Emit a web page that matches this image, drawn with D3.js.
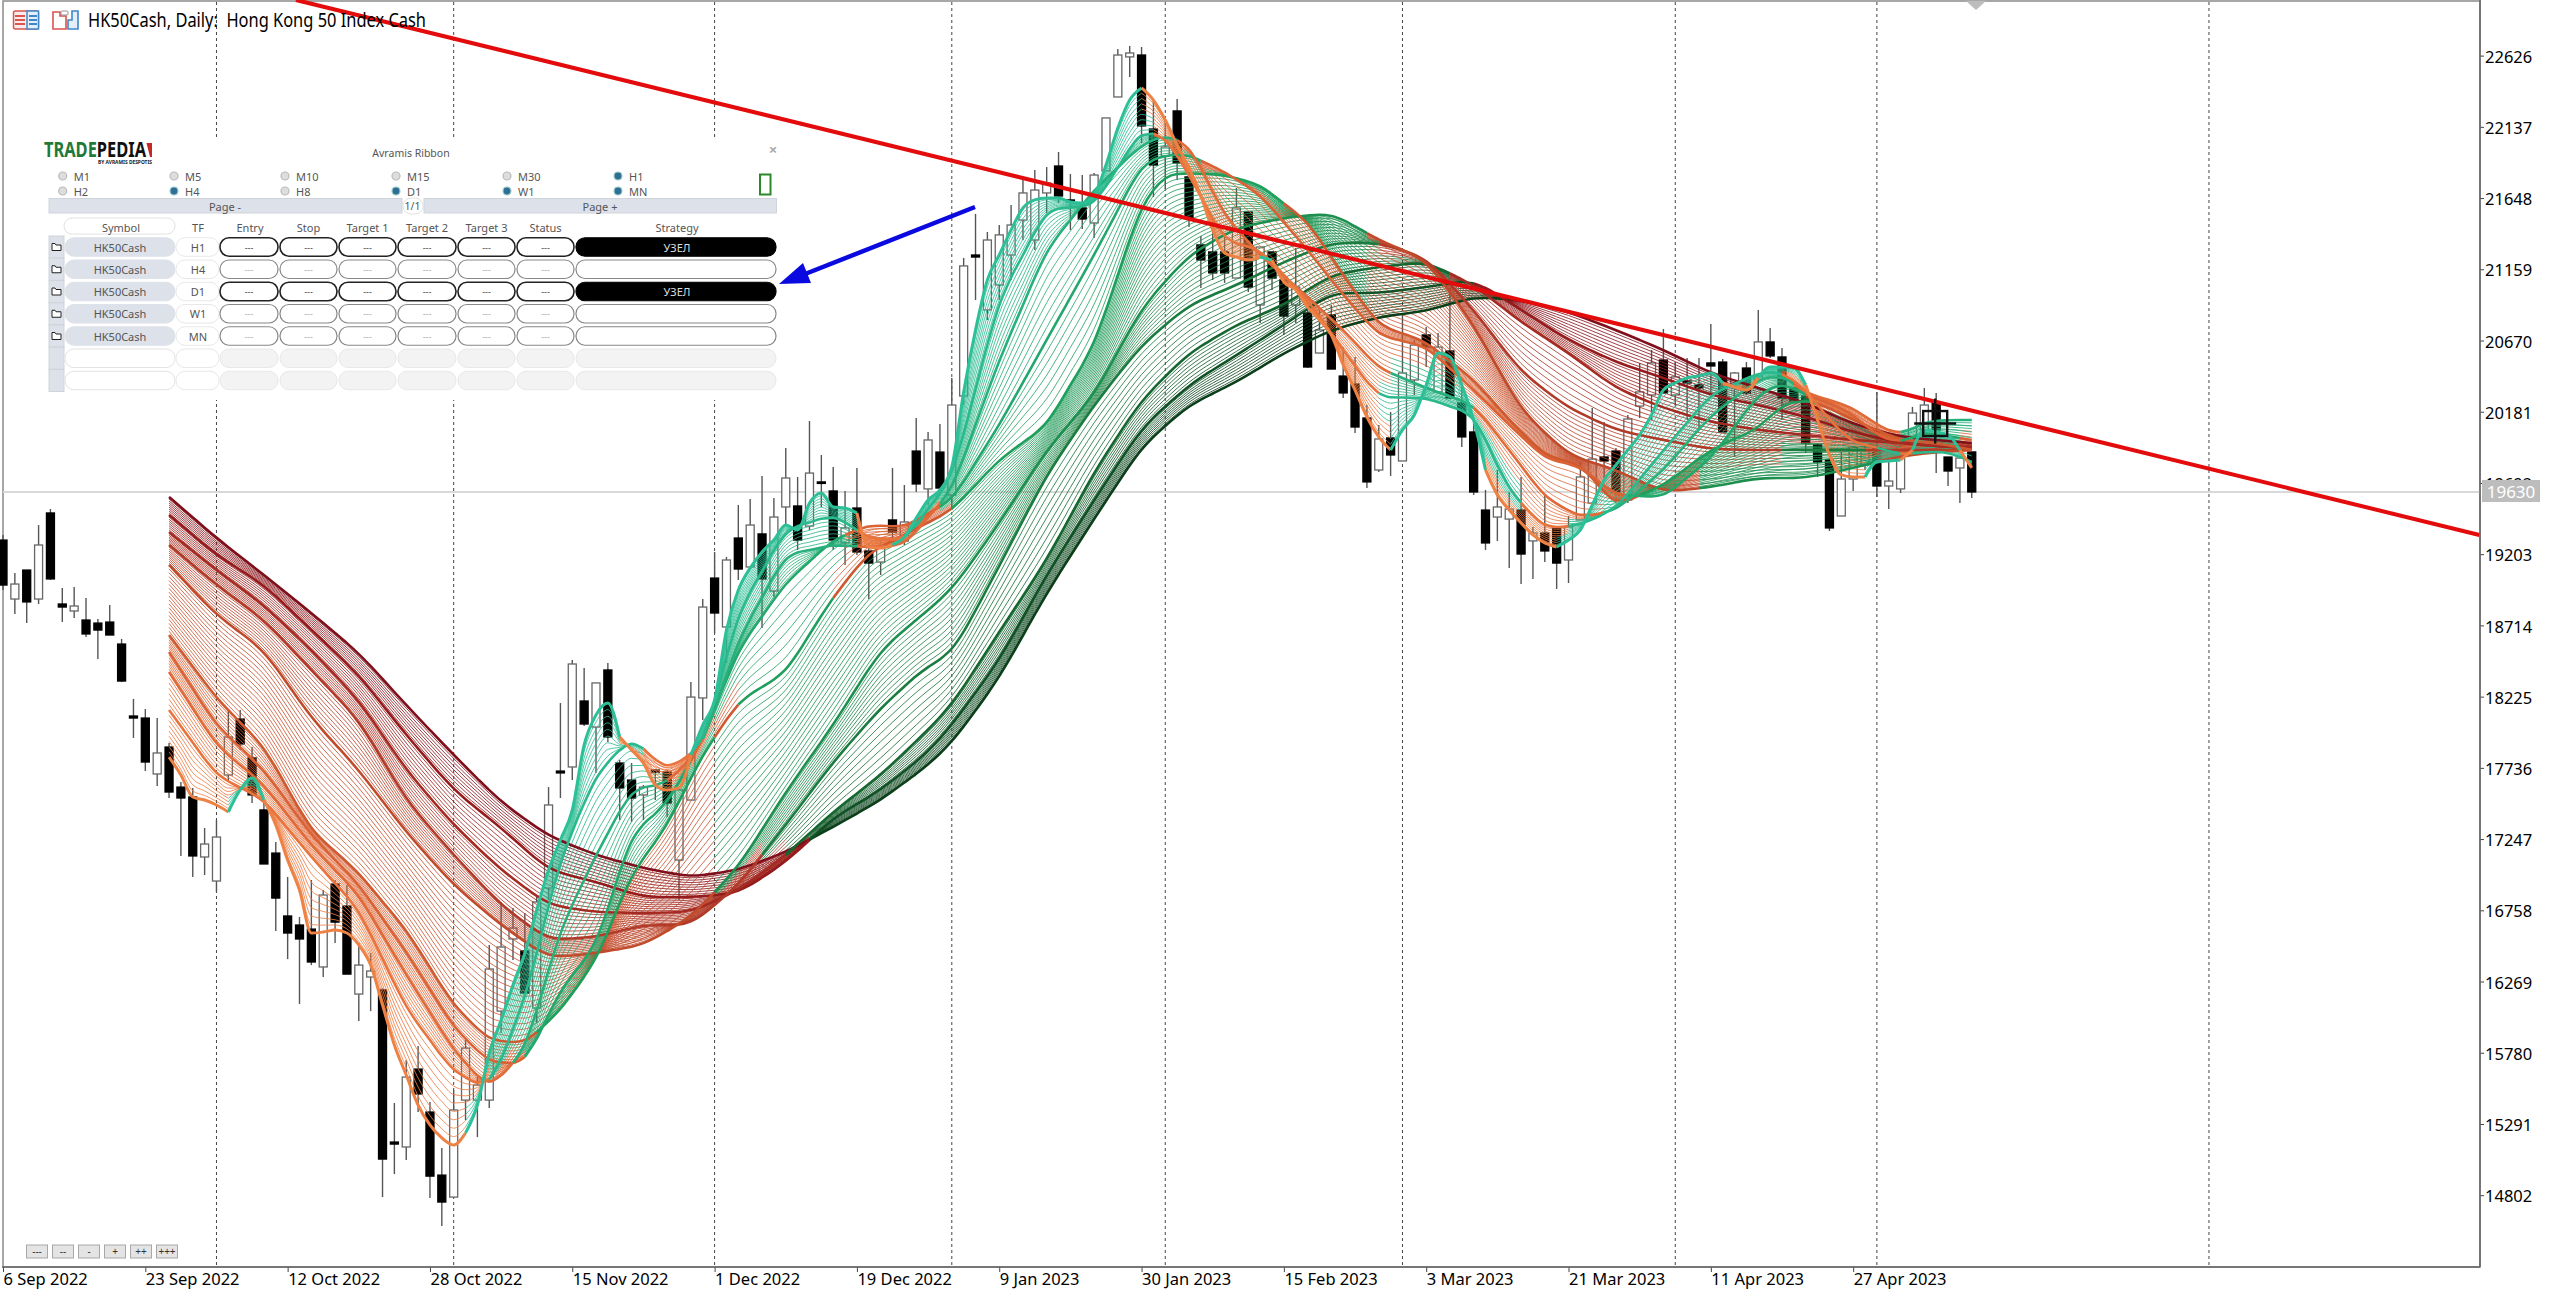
<!DOCTYPE html>
<html><head><meta charset="utf-8">
<script src="https://cdn.jsdelivr.net/npm/d3@7"></script>
<style>html,body{margin:0;padding:0;background:#fff}svg{display:block}text{font-family:"Noto Sans","Open Sans",sans-serif}</style>
</head><body><div id="c"></div>
<script>
// ---------- DATA ----------
const priceTicks=[22626,22137,21648,21159,20670,20181,19692,19203,18714,18225,17736,17247,16758,16269,15780,15291,14802];
const dateBars=[0,12,24,36,48,60,72,84,96,108,120,132,144,156];
const dateLabels=["6 Sep 2022","23 Sep 2022","12 Oct 2022","28 Oct 2022","15 Nov 2022","1 Dec 2022","19 Dec 2022","9 Jan 2023","30 Jan 2023","15 Feb 2023","3 Mar 2023","21 Mar 2023","11 Apr 2023","27 Apr 2023"];
const separatorBars=[18,38,60,80,98,118,141,158,186];
const lastPrice=19630;
const trendBars=[24.7,208.8], trendPrices=[23008,19335];

const opens=[19300,18895,19094,18895,19486,18861,18813,18751,18730,18737,
18586,18092,18078,17694,17879,17604,17536,17124,16959,17687,
18071,17804,17447,17151,16719,16657,16629,16369,16938,16787,
16183,16300,16211,15167,15133,15668,15373,14940,14789,15455,
15455,15455,16066,16561,16479,16087,16911,17714,17742,18195,
18016,18408,17769,17652,17550,17721,17707,17103,17515,18216,
19039,18703,19314,19115,19342,18950,19527,19534,19396,19699,
19637,19280,19520,19225,19149,19438,19293,19911,19651,19904,
19609,20289,21257,20880,21051,21257,21497,21360,21683,21868,
21635,21580,21477,21834,22342,22617,22630,22122,21937,22246,
21793,21326,21278,21278,21099,21552,20914,21278,21086,20914,
20859,20584,20845,20426,20371,20138,19781,20001,19843,20399,
20708,20317,20598,20241,20042,19506,19458,19444,19506,19294,
19348,19383,19163,19438,19554,19870,19911,19575,20220,20296,
20536,20296,20392,20365,20516,20522,20378,20481,20399,20660,
20557,20344,20289,19953,19850,19465,19719,19815,19932,19671,
19651,19918,20056,20248,19870,19795,19905];
const closes=[18991,18998,18875,19266,19033,18840,18847,18655,18682,18648,
18332,18078,17776,17838,17570,17529,17131,17213,17261,17948,
17900,17550,17076,16842,16602,16561,16403,16863,16677,16320,
16382,16341,15050,15153,15613,15497,14933,14755,15387,15812,
15558,16355,16506,16636,16190,16815,17481,17701,18449,18037,
18319,17948,17598,17529,17604,17707,17495,17584,18222,18840,
18799,19163,19101,19403,19033,19458,19726,19300,19760,19692,
19300,19383,19218,19142,19245,19355,19424,19685,19987,19657,
20227,21182,21243,21360,21395,21463,21683,21703,21752,21662,
21621,21504,21806,22198,22630,22644,22143,21875,21999,21889,
21511,21223,21134,21134,21580,21037,21312,21099,20838,21037,
20488,20742,20474,20310,20076,19699,19994,19884,20447,20639,
20625,20625,20275,20008,19630,19280,19527,19513,19204,19348,
19225,19142,19390,19733,19856,19843,19630,20131,20317,20516,
20310,20420,20378,20344,20495,20042,20447,20310,20660,20564,
20275,20255,19966,19836,19383,19719,19939,19918,19671,19705,
19939,20172,20227,20056,19774,19863,19630];
const highs=[19335,19074,19094,19403,19513,18971,18978,18902,18758,18854,
18621,18209,18140,18078,17907,17639,17598,17323,17378,18133,
18133,17879,17515,17227,16987,16712,16966,16897,16966,16932,
16533,16465,16224,15435,15730,15826,15442,15126,15524,15867,
15613,16520,16815,16774,16739,16849,17604,18181,18476,18422,
18319,18456,17790,17769,17618,17721,17721,17598,18325,18895,
19218,19184,19541,19582,19740,19589,19932,19733,20117,19884,
19802,19637,19795,19280,19300,19795,19678,20138,20042,20097,
20413,21237,21539,21415,21463,21600,21772,21841,21861,21964,
21813,21806,21820,22198,22672,22692,22685,22321,22184,22328,
21793,21388,21511,21408,21717,21552,21312,21278,21086,21305,
20928,20880,20914,20625,20557,20227,20090,20179,20845,20674,
20763,20722,21031,20351,20104,19644,19781,19630,19733,19390,
19609,19383,19465,19836,20207,20111,19932,20159,20516,20605,
20749,20522,20550,20550,20783,20543,20454,20522,20880,20756,
20619,20351,20310,19966,19863,19905,19939,19953,20317,19836,
19966,20214,20344,20310,19870,19863,19905];
const lows=[18957,18792,18730,18861,19026,18737,18765,18634,18483,18648,
18325,17941,17714,17611,17529,17131,16987,17000,16884,17639,
17859,17495,17076,16616,16423,16115,16382,16300,16533,16320,
15998,16066,14789,14947,15044,15373,14782,14590,14789,15318,
15201,15400,15915,16417,16190,15984,16829,17529,17652,18023,
17701,17913,17378,17364,17378,17515,17398,16829,17515,18064,
18662,18456,19026,19115,18696,18909,19396,19232,19369,19527,
19232,19129,19197,18895,19060,19300,19266,19630,19541,19644,
19506,20227,20948,20811,20948,21086,21360,21292,21546,21614,
21429,21436,21374,21834,22342,22479,22026,21655,21710,21772,
21449,21031,21086,21065,21099,21003,20790,21017,20708,20790,
20481,20584,20474,20275,20035,19657,19767,19740,19843,20296,
20488,20317,20275,19939,19609,19232,19294,19108,18998,19033,
19149,18964,19005,19438,19554,19726,19554,19554,20138,20124,
20310,20227,20124,20056,20296,20042,19870,20296,20399,20550,
20124,20248,19898,19733,19362,19465,19637,19781,19596,19513,
19623,19884,20021,19760,19671,19554,19589];

// Ribbon guide lines, fastest (g0) to slowest (g9).
const ribbonStartBar=14;
const g0Values=[17810,17687,17536,17515,17481,17433,17584,17666,17515,17344,17103,16897,16602,16609,16622,16602,16520,16382,16108,15833,15627,15421,15284,15195,15147,15229,15421,15778,16005,16245,16465,16760,17035,17241,17447,17893,18099,18181,17948,17859,17769,17618,17584,17598,17824,18030,18202,18682,18957,19108,19218,19300,19403,19369,19554,19623,19527,19520,19486,19252,19245,19266,19321,19451,19575,19644,19802,20317,20742,21086,21257,21429,21580,21635,21649,21649,21621,21614,21669,21875,22129,22321,22404,22321,22184,22012,21855,21662,21429,21271,21243,21223,21243,21223,21072,21017,20900,20811,20708,20502,20330,20145,20008,19918,20056,20159,20365,20584,20557,20365,20124,19781,19609,19506,19417,19335,19280,19252,19300,19369,19541,19712,19815,19918,20021,20159,20330,20378,20413,20426,20447,20378,20351,20330,20413,20488,20488,20481,20365,20124,19884,19747,19733,19733,19836,19843,19850,19918,20056,20042,20021,19918,19795];
const fastBars=[14,18,22,26,30,34,38,41,44,47,50,53,56,59,62,66,70,73,76,80,84,88,92,96,98,100,103,106,110,113,116,120,124,127,130,133,136,140,144,148,150,152,154,156,158,160,162,164,166];
const g1Values=[18133,17687,17515,17124,16760,16087,15648,15538,16142,17103,17687,17941,17721,17893,18799,19369,19472,19314,19300,19726,20948,21566,21600,22115,22067,21806,21360,21292,20948,20605,20282,20275,20159,19644,19383,19403,19520,19918,20296,20447,20454,20330,20124,19966,19939,19884,19905,19905,19836];
const g2Values=[18394,17893,17618,17206,16863,16314,15799,15538,15799,16622,17138,17584,17632,17893,18614,19197,19266,19252,19266,19644,20536,21292,21703,22012,22081,22012,21532,21257,20969,20742,20481,20344,20227,19918,19596,19458,19506,19781,20152,20399,20433,20310,20262,20207,20090,20021,20111,20124,20124];
const g3Values=[18531,18030,17721,17275,16932,16472,15957,15716,15709,16211,16520,17275,17495,17927,18545,19005,19300,19403,19390,19575,20090,20674,21257,21875,21944,21944,21827,21669,21292,20982,20708,20625,20330,20090,19863,19802,19609,19596,19863,20296,20378,20296,20241,20159,20021,19966,20042,20014,19987];
const g4Values=[18648,18216,17879,17309,17014,16622,16108,15867,15847,16073,16417,17000,17344,17824,18188,18394,18909,19211,19335,19506,19850,20090,20639,21600,21806,21820,21806,21738,21484,21120,20777,20660,20399,20124,19884,19815,19541,19678,19918,20069,20227,20262,20207,20124,20056,19987,19973,19953,19918];
const slowBars=[14,18,22,26,30,34,38,42,46,50,54,58,62,66,70,74,78,80,84,88,92,96,100,104,108,112,116,120,124,128,132,136,140,144,148,152,156,160,164,166];
const g5Values=[19129,18785,18545,18078,17721,17295,16932,16657,16430,16465,16520,16712,17055,17570,18030,18545,18820,18957,19417,19918,20296,20893,21257,21443,21511,21546,21360,21223,20777,20193,19884,19781,19630,19664,19726,19726,19795,19877,19911,19918];
const g6Values=[19266,18991,18751,18408,18064,17515,17138,16794,16554,16575,16657,16657,16932,17344,17776,18147,18442,18511,19122,19747,20227,20639,20914,21051,21209,21340,21340,21237,20880,20454,20207,20056,19987,19925,19918,19918,19918,19918,19918,19918];
const g7Values=[19355,19094,18854,18545,18202,17721,17344,17035,16794,16746,16739,16746,16897,17138,17433,17687,17996,18167,18669,19163,19767,20262,20584,20777,20914,21120,21175,21209,21051,20797,20584,20344,20207,20111,20056,20021,19987,19966,19939,19939];
const g8Values=[19472,19197,18991,18682,18373,17962,17584,17323,17035,16952,16849,16849,16877,17089,17392,17584,17845,18030,18476,19060,19575,20069,20365,20570,20777,20996,20996,21037,21086,20880,20674,20522,20413,20296,20227,20145,20042,19966,19939,19939];
const g9Values=[19596,19314,19060,18799,18525,18167,17824,17501,17268,17138,17048,16987,17035,17158,17330,17515,17755,17907,18353,18936,19445,19939,20227,20385,20584,20742,20831,20873,20969,20948,20866,20742,20605,20447,20344,20241,20097,20008,19980,19966];
// Bars at which each guide flips between its falling (red) and rising (green) colour; it starts red.
const g0Turns=[19,22,39,52,58,72,75,96,106,107,117,125,131,145,148,152,157,160,161,165];
const g1Turns=[41,54,58,72,76,97,116,128,132,150,158,160,161];
const g2Turns=[43,56,59,72,79,99,117,124,135,151,160];
const g3Turns=[44,58,60,71,79,101,137,152,160,165];
const g4Turns=[45,60,62,70,80,108,138,153];
const g5Turns=[60,115,143,158];
const g6Turns=[64,116,150,157];
const g7Turns=[66,122];
const g8Turns=[68,124];
const g9Turns=[68,127];
// Number of thin hatch lines seen in each band between neighbouring guides.
const bandLineCounts=[8,6,6,6,17,9,7,7,8];

// Panel content
const radioRow1=["M1","M5","M10","M15","M30","H1"], radioRow2=["H2","H4","H8","D1","W1","MN"];
const radioOn=["H1","H4","D1","W1","MN"];
const headers=["Entry","Stop","Target 1","Target 2","Target 3","Status"];
const panelSymbols=["HK50Cash","HK50Cash","HK50Cash","HK50Cash","HK50Cash","",""];
const panelTF=["H1","H4","D1","W1","MN","",""];
const panelStrategy=["УЗЕЛ","","УЗЕЛ","","","",""];

// ---------- STYLES ----------
const W=2560,H=1293,axisX=2480,axisY=1267;
const redCols=["#ee8144","#e8733c","#e06a38","#da6234","#cf5a30","#c04a2a","#b23a28","#a52a22","#951b1c","#7f0f1a"];
const grnCols=["#2dc098","#2ab98c","#27b07c","#22a86c","#1f9f5c","#1d8f4e","#1a7c3e","#15662f","#105125","#0b3f19"];

// ---------- SCALES ----------
const x=d3.scaleLinear().domain([0,1]).range([3,14.86]);
const y=d3.scaleLinear().domain([14802,22626]).range([1195.2,55.6]);
const svg=d3.select("#c").append("svg").attr("width",W).attr("height",H);
const chart=svg.append("g");

// frame
chart.append("rect").attr("x",3).attr("y",1).attr("width",axisX-3).attr("height",axisY-1).attr("fill","#fff").attr("stroke","#8a8a8a").attr("stroke-width",1.5);

// separators
chart.selectAll(".sep").data(separatorBars).join("line").attr("x1",d=>x(d)).attr("x2",d=>x(d)).attr("y1",2).attr("y2",axisY)
 .attr("stroke","#444").attr("stroke-width",1).attr("stroke-dasharray","3,3");
// last price line
chart.append("line").attr("x1",3).attr("x2",axisX).attr("y1",y(lastPrice)).attr("y2",y(lastPrice)).attr("stroke","#d9d9d9").attr("stroke-width",2);

// candles
const idx=d3.range(opens.length), bw=8;
chart.selectAll(".wick").data(idx).join("line").attr("x1",i=>x(i)).attr("x2",i=>x(i)).attr("y1",i=>y(highs[i])).attr("y2",i=>y(lows[i])).attr("stroke","#555").attr("stroke-width",1.4);
chart.selectAll(".body").data(idx).join("rect").attr("x",i=>x(i)-bw/2).attr("width",bw)
 .attr("y",i=>y(Math.max(opens[i],closes[i]))).attr("height",i=>Math.max(1.5,Math.abs(y(opens[i])-y(closes[i]))))
 .attr("fill",i=>closes[i]>=opens[i]?"#fff":"#000").attr("stroke",i=>closes[i]>=opens[i]?"#666":"#000").attr("stroke-width",1.3);

// ribbon: guides are resampled per bar only to draw them; thin hatch lines between
// two guides are blends of those guides (a texture, not individually read from the picture).
const bars=d3.range(ribbonStartBar,167);
function sample(b,v){const s=d3.scaleLinear().domain(b).range(v);return bars.map(s);}
function soften(a){return a.map((v,i)=>i==0||i==a.length-1?v:(a[i-1]+2*v+a[i+1])/4);}
const g0Bars=d3.range(ribbonStartBar,ribbonStartBar+g0Values.length);
let guides=[sample(g0Bars,g0Values),
 ...[g1Values,g2Values,g3Values,g4Values].map(v=>soften(sample(fastBars,v))),
 ...[g5Values,g6Values,g7Values,g8Values,g9Values].map(v=>soften(soften(sample(slowBars,v))))];
const turns=[g0Turns,g1Turns,g2Turns,g3Turns,g4Turns,g5Turns,g6Turns,g7Turns,g8Turns,g9Turns];
const isGreen=(k,b)=>turns[k].filter(t=>t<=b).length%2==1;
const lineGen=d3.line().x(d=>x(d[0])).y(d=>y(d[1])).curve(d3.curveMonotoneX);
function drawRuns(layer,vals,stateAt,colAt,w,op){
 let start=0;
 for(let i=1;i<=bars.length;i++){
  if(i==bars.length||stateAt(bars[i])!=stateAt(bars[start])){
   const end=Math.min(i,bars.length-1);
   const pts=d3.range(start,end+1).map(j=>[bars[j],vals[j]]);
   layer.append("path").attr("d",lineGen(pts)).attr("fill","none").attr("stroke",colAt(stateAt(bars[start]))).attr("stroke-width",w).attr("stroke-opacity",op).attr("stroke-linejoin","round");
   start=i;
  }
 }
}
const rib=chart.append("g");
for(let k=8;k>=0;k--){
 const n=bandLineCounts[k];
 for(let m=1;m<=n;m++){
  const t=m/(n+1);
  const vals=guides[k].map((v,i)=>v+(guides[k+1][i]-v)*t);
  const kk=(k==4||t>=0.5)?k+1:k;
  const rc=d3.interpolateRgb(redCols[k],redCols[k+1])(t), gc=d3.interpolateRgb(grnCols[k],grnCols[k+1])(t);
  drawRuns(rib,vals,b=>isGreen(kk,b),g=>g?gc:rc,1,0.82);
 }
}
for(let k=9;k>=0;k--){
 drawRuns(rib,guides[k],b=>isGreen(k,b),g=>g?grnCols[k]:redCols[k],k==0?3:2.6,1);
}

// trend line
chart.append("line").attr("x1",x(trendBars[0])).attr("y1",y(trendPrices[0])).attr("x2",x(trendBars[1])).attr("y2",y(trendPrices[1])).attr("stroke","#e30b0b").attr("stroke-width",4);

// crosshair symbol on the chart
const cx=x(163)-1, cy=y(20100);
const sym=chart.append("g").attr("stroke","#111").attr("fill","none");
sym.append("rect").attr("x",cx-12).attr("y",cy-12.5).attr("width",24).attr("height",25).attr("stroke-width",2.4);
sym.append("line").attr("x1",cx-21).attr("x2",cx+21).attr("y1",cy).attr("y2",cy).attr("stroke-width",2.4);
sym.append("line").attr("x1",cx).attr("x2",cx).attr("y1",cy-25).attr("y2",cy+20).attr("stroke-width",2.4);

// axes
const priceAxis=d3.axisRight(y).tickValues(priceTicks).tickFormat(d3.format("d")).tickSize(4).tickSizeOuter(0);
const pa=svg.append("g").attr("transform",`translate(${axisX},0)`).call(priceAxis);
pa.select(".domain").remove();
pa.selectAll("text").attr("x",5).attr("dy","0.4em").attr("fill","#000").style("font-size","16.5px").style("font-family",'"Noto Sans"').attr("text-anchor","start");
pa.selectAll("line").attr("stroke","#444");
svg.append("line").attr("x1",axisX).attr("x2",axisX).attr("y1",0).attr("y2",axisY).attr("stroke","#666").attr("stroke-width",1.5);
const dateAxis=d3.axisBottom(x).tickValues(dateBars).tickFormat((d,i)=>dateLabels[i]).tickSize(5).tickSizeOuter(0);
const da=svg.append("g").attr("transform",`translate(0,${axisY})`).call(dateAxis);
da.select(".domain").remove();
da.selectAll("text").attr("text-anchor","start").attr("x",0).attr("y",6).attr("fill","#000").style("font-size","16.5px").style("font-family",'"Noto Sans"');
da.selectAll("line").attr("stroke","#444");
svg.append("line").attr("x1",2).attr("x2",axisX).attr("y1",axisY).attr("y2",axisY).attr("stroke","#666").attr("stroke-width",1.5);

// last price tag
svg.append("rect").attr("x",2482).attr("y",480).attr("width",58).attr("height",22).attr("fill","#bdbdbd");
svg.append("text").attr("x",2511).attr("y",y(lastPrice)+6.5).attr("text-anchor","middle").attr("fill","#fff").style("font-size","17px").text(lastPrice);

// shift marker
svg.append("path").attr("d","M1966,1L1986,1L1976,10Z").attr("fill","#bdbdbd");

// title + icons
svg.append("text").attr("x",88).attr("y",27).attr("fill","#000").style("font-size","19px").style("white-space","pre").attr("textLength",338).attr("lengthAdjust","spacingAndGlyphs").text("HK50Cash, Daily:  Hong Kong 50 Index Cash");
const ic=svg.append("g");
ic.append("rect").attr("x",13.5).attr("y",11).attr("width",25).attr("height",18).attr("rx",2).attr("fill","#fbeaea").attr("stroke","#d9534f").attr("stroke-width",1.5);
ic.append("rect").attr("x",27).attr("y",11).attr("width",11.5).attr("height",18).attr("fill","#e3eef8").attr("stroke","#3f86c8").attr("stroke-width",1.5);
[16,20,24].forEach(v=>{ic.append("line").attr("x1",15).attr("x2",25).attr("y1",v).attr("y2",v).attr("stroke","#d9534f").attr("stroke-width",2);ic.append("line").attr("x1",29).attr("x2",37).attr("y1",v).attr("y2",v).attr("stroke","#3f86c8").attr("stroke-width",2);});
ic.append("path").attr("d","M53,12H60V16H66V29H53Z").attr("fill","#fff").attr("stroke","#d9534f").attr("stroke-width",1.6);
ic.append("path").attr("d","M68,29H78V11H72V20H68Z").attr("fill","#e3eef8").attr("stroke","#3f86c8").attr("stroke-width",1.6);
ic.append("rect").attr("x",61).attr("y",11).attr("width",7).attr("height",4).attr("rx",1).attr("fill","#fff").attr("stroke","#999");

// +/- buttons
const btn=svg.append("g");
["---","--","-","+","++","+++"].forEach((t,i)=>{
 const bx=26.5+i*26;
 btn.append("rect").attr("x",bx).attr("y",1245).attr("width",21).attr("height",13).attr("fill","#e4e4e4").attr("stroke","#a8a8a8");
 btn.append("text").attr("x",bx+10.5).attr("y",1255).attr("text-anchor","middle").style("font-size","10px").attr("fill","#333").text(t);
});

// ---------- PANEL ----------
const P=svg.append("g");
P.append("rect").attr("x",40).attr("y",140).attr("width",745).attr("height",260).attr("fill","#fff");
const txt=(t,px,py,o={})=>P.append("text").attr("x",px).attr("y",py).attr("text-anchor",o.a||"middle").attr("dominant-baseline","central").attr("fill",o.c||"#555").style("font-size",(o.s||10.5)+"px").style("font-weight",o.w||400).text(t);
// logo
const logo=P.append("text").attr("x",44).attr("y",157).style("font-size","21px").style("font-weight",700).attr("textLength",102).attr("lengthAdjust","spacingAndGlyphs");
logo.append("tspan").attr("fill","#1f7a3a").text("TRADE");
logo.append("tspan").attr("fill","#111").text("PEDIA");
P.append("path").attr("d","M146.5,143H152V157H150Z").attr("fill","#c62828");
P.append("text").attr("x",98).attr("y",164).attr("fill","#222").style("font-size","5.5px").style("font-weight",700).attr("textLength",54).attr("lengthAdjust","spacingAndGlyphs").text("BY AVRAMIS DESPOTIS");
txt("Avramis Ribbon",411,153,{s:10.5});
txt("×",773,149,{s:15,c:"#aaa",w:700});
// radios
const radioX=[62.7,174,285,396,507,618];
[[radioRow1,176],[radioRow2,191]].forEach(([row,ry])=>row.forEach((l,i)=>{
 const on=radioOn.includes(l);
 P.append("circle").attr("cx",radioX[i]).attr("cy",ry).attr("r",4).attr("fill",on?"#2f6f96":"#ddd").attr("stroke",on?"#9cc":"#bbb").attr("stroke-width",1.2);
 txt(l,radioX[i]+11,ry,{a:"start",s:11});
}));
P.append("rect").attr("x",760).attr("y",174.5).attr("width",10.5).attr("height",20).attr("fill","none").attr("stroke","#2a8a2a").attr("stroke-width",2);
// page row
const blue="#dde1e9";
P.append("rect").attr("x",49).attr("y",198.5).attr("width",353).attr("height",14.5).attr("fill",blue).attr("stroke","#cfd3da");
P.append("rect").attr("x",424).attr("y",198.5).attr("width",352.5).attr("height",14.5).attr("fill",blue).attr("stroke","#cfd3da");
P.append("rect").attr("x",403).attr("y",198).attr("width",20).attr("height",16).attr("rx",8).attr("fill","#fff").attr("stroke","#e2e2e2");
txt("Page -",225,206,{s:11});txt("Page +",600,206,{s:11});txt("1/1",412.5,206,{s:10.5});
// header row
P.append("rect").attr("x",64).attr("y",218).attr("width",111).attr("height",16).attr("rx",8).attr("fill","#fff").attr("stroke","#e2e2e2");
txt("Symbol",121,227,{s:11});txt("TF",198,227,{s:11});
const colX=[[220,278],[280,337],[339,396],[398,456],[458,515],[517,574]];
headers.forEach((h,i)=>txt(h,(colX[i][0]+colX[i][1])/2+ (i==0?1:0),227,{s:11}));
txt("Strategy",677,227,{s:11});
// table rows
panelSymbols.forEach((s,r)=>{
 const cyR=247+r*22.25, top=cyR-9.25, hh=18.5, filled=s!=="", dark=panelStrategy[r]!=="";
 P.append("rect").attr("x",49).attr("y",cyR-11).attr("width",15).attr("height",22).attr("fill",blue).attr("stroke","#cfd3da");
 if(filled){P.append("path").attr("d",`M52,${cyR-3.5}h3l1,1.5h5v5.5h-9z`).attr("fill","#fff").attr("stroke","#222").attr("stroke-width",1);}
 P.append("rect").attr("x",65).attr("y",top).attr("width",110).attr("height",hh).attr("rx",9).attr("fill",filled?blue:"#fff").attr("stroke",filled?blue:"#e2e2e2");
 P.append("rect").attr("x",176).attr("y",top).attr("width",43).attr("height",hh).attr("rx",9).attr("fill","#fff").attr("stroke","#e8e8e8");
 if(filled){txt(s,120,cyR,{s:11});txt(panelTF[r],198,cyR,{s:11});}
 colX.forEach(c=>{
  P.append("rect").attr("x",c[0]).attr("y",top).attr("width",c[1]-c[0]).attr("height",hh).attr("rx",9)
   .attr("fill",filled?"#fff":"#f3f3f3").attr("stroke",filled?(dark?"#222":"#888"):"#e8e8e8").attr("stroke-width",filled?(dark?1.6:1.2):1);
  if(filled)txt("---",(c[0]+c[1])/2,cyR,{s:9,c:dark?"#444":"#aaa"});
 });
 P.append("rect").attr("x",576).attr("y",top).attr("width",200).attr("height",hh).attr("rx",9)
  .attr("fill",!filled?"#f3f3f3":dark?"#000":"#fff").attr("stroke",!filled?"#e8e8e8":dark?"#000":"#888").attr("stroke-width",filled?1.2:1);
 if(dark)txt(panelStrategy[r],677,cyR,{s:11,c:"#ddd"});
});
// blue arrow
svg.append("line").attr("x1",975).attr("y1",207).attr("x2",800).attr("y2",276).attr("stroke","#0a0ae0").attr("stroke-width",4.5);
svg.append("path").attr("d","M779,284L803,263L811,283Z").attr("fill","#0a0ae0");
</script></body></html>
